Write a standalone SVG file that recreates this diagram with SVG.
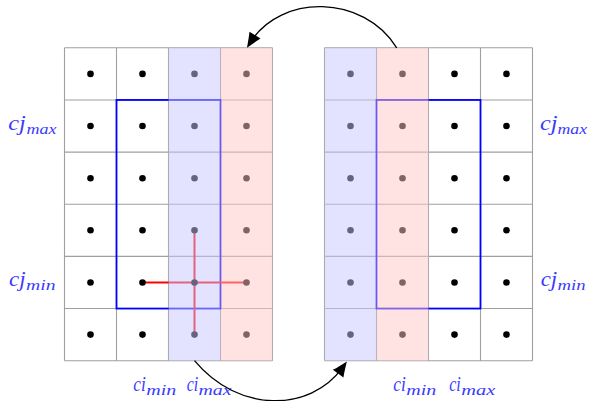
<svg xmlns="http://www.w3.org/2000/svg" width="590" height="401" viewBox="0 0 590 401">
<style>
.grid{stroke:#a0a0a0;stroke-width:1.1;fill:none}
.dot{fill:#000}
.win{fill:none;stroke:#0000ff;stroke-width:1.8}
.cross{stroke:#ff0000;stroke-width:2;fill:none}
.fb{fill:#c8c8ff;fill-opacity:0.5}
.fr{fill:#ffc8c8;fill-opacity:0.5}
.lbl{font-family:"Liberation Serif","DejaVu Serif",serif;font-style:italic;fill:#3a3aff}
.m{font-size:20px}
.s{font-size:14px}
.arc{fill:none;stroke:#000;stroke-width:1.3}
</style>
<defs>
<marker id="ah" markerUnits="userSpaceOnUse" markerWidth="30" markerHeight="30" refX="0" refY="0" viewBox="-15 -15 30 30" orient="auto" overflow="visible">
<path d="M7,0 C2,-2 -4,-4.5 -8,-6.5 L-8,6.5 C-4,4.5 2,2 7,0 Z" fill="#000"/>
</marker>
</defs>

<g id="grid-left">
<path class="grid" d="M64.5,47.8H272.5M64.5,99.95H272.5M64.5,152.1H272.5M64.5,204.25H272.5M64.5,256.4H272.5M64.5,308.55H272.5M64.5,360.7H272.5M64.5,47.8V360.7M116.5,47.8V360.7M168.5,47.8V360.7M220.5,47.8V360.7M272.5,47.8V360.7"/>
<rect class="win" x="116.5" y="99.95" width="104" height="208.6"/>
<path class="cross" d="M142.5,282.5H246.5M194.5,230.3V334.6"/>
<g class="dot">
<circle cx="90.5" cy="73.9" r="3.3"/><circle cx="142.5" cy="73.9" r="3.3"/><circle cx="194.5" cy="73.9" r="3.3"/><circle cx="246.5" cy="73.9" r="3.3"/>
<circle cx="90.5" cy="126" r="3.3"/><circle cx="142.5" cy="126" r="3.3"/><circle cx="194.5" cy="126" r="3.3"/><circle cx="246.5" cy="126" r="3.3"/>
<circle cx="90.5" cy="178.2" r="3.3"/><circle cx="142.5" cy="178.2" r="3.3"/><circle cx="194.5" cy="178.2" r="3.3"/><circle cx="246.5" cy="178.2" r="3.3"/>
<circle cx="90.5" cy="230.3" r="3.3"/><circle cx="142.5" cy="230.3" r="3.3"/><circle cx="194.5" cy="230.3" r="3.3"/><circle cx="246.5" cy="230.3" r="3.3"/>
<circle cx="90.5" cy="282.5" r="3.3"/><circle cx="142.5" cy="282.5" r="3.3"/><circle cx="194.5" cy="282.5" r="3.3"/><circle cx="246.5" cy="282.5" r="3.3"/>
<circle cx="90.5" cy="334.6" r="3.3"/><circle cx="142.5" cy="334.6" r="3.3"/><circle cx="194.5" cy="334.6" r="3.3"/><circle cx="246.5" cy="334.6" r="3.3"/>
</g>
<rect class="fb" x="168.5" y="47.8" width="52" height="312.9"/>
<rect class="fr" x="220.5" y="47.8" width="52" height="312.9"/>
</g>

<g id="grid-right">
<path class="grid" d="M324.5,47.8H532.5M324.5,99.95H532.5M324.5,152.1H532.5M324.5,204.25H532.5M324.5,256.4H532.5M324.5,308.55H532.5M324.5,360.7H532.5M324.5,47.8V360.7M376.5,47.8V360.7M428.5,47.8V360.7M480.5,47.8V360.7M532.5,47.8V360.7"/>
<rect class="win" x="376.5" y="99.95" width="104" height="208.6"/>
<g class="dot">
<circle cx="350.5" cy="73.9" r="3.3"/><circle cx="402.5" cy="73.9" r="3.3"/><circle cx="454.5" cy="73.9" r="3.3"/><circle cx="506.5" cy="73.9" r="3.3"/>
<circle cx="350.5" cy="126" r="3.3"/><circle cx="402.5" cy="126" r="3.3"/><circle cx="454.5" cy="126" r="3.3"/><circle cx="506.5" cy="126" r="3.3"/>
<circle cx="350.5" cy="178.2" r="3.3"/><circle cx="402.5" cy="178.2" r="3.3"/><circle cx="454.5" cy="178.2" r="3.3"/><circle cx="506.5" cy="178.2" r="3.3"/>
<circle cx="350.5" cy="230.3" r="3.3"/><circle cx="402.5" cy="230.3" r="3.3"/><circle cx="454.5" cy="230.3" r="3.3"/><circle cx="506.5" cy="230.3" r="3.3"/>
<circle cx="350.5" cy="282.5" r="3.3"/><circle cx="402.5" cy="282.5" r="3.3"/><circle cx="454.5" cy="282.5" r="3.3"/><circle cx="506.5" cy="282.5" r="3.3"/>
<circle cx="350.5" cy="334.6" r="3.3"/><circle cx="402.5" cy="334.6" r="3.3"/><circle cx="454.5" cy="334.6" r="3.3"/><circle cx="506.5" cy="334.6" r="3.3"/>
</g>
<rect class="fb" x="324.5" y="47.8" width="52" height="312.9"/>
<rect class="fr" x="376.5" y="47.8" width="52" height="312.9"/>
</g>

<g id="labels" class="lbl">
<text class="m" x="8.3" y="129.5" textLength="17.5" lengthAdjust="spacingAndGlyphs">cj</text>
<text class="s" x="26.5" y="134" textLength="30" lengthAdjust="spacingAndGlyphs">max</text>
<text class="m" x="9" y="286" textLength="16.5" lengthAdjust="spacingAndGlyphs">cj</text>
<text class="s" x="26" y="290.3" textLength="29.5" lengthAdjust="spacingAndGlyphs">min</text>
<text class="m" x="540" y="129.5" textLength="17.5" lengthAdjust="spacingAndGlyphs">cj</text>
<text class="s" x="557.5" y="134" textLength="29.5" lengthAdjust="spacingAndGlyphs">max</text>
<text class="m" x="540.7" y="286" textLength="16.5" lengthAdjust="spacingAndGlyphs">cj</text>
<text class="s" x="557.5" y="290.3" textLength="28" lengthAdjust="spacingAndGlyphs">min</text>
<text class="m" x="133.3" y="391" textLength="12.5" lengthAdjust="spacingAndGlyphs">ci</text>
<text class="s" x="146.3" y="395" textLength="30" lengthAdjust="spacingAndGlyphs">min</text>
<text class="m" x="186.7" y="391" textLength="11.5" lengthAdjust="spacingAndGlyphs">ci</text>
<text class="s" x="198.5" y="395" textLength="33" lengthAdjust="spacingAndGlyphs">max</text>
<text class="m" x="393.3" y="391" textLength="12.5" lengthAdjust="spacingAndGlyphs">ci</text>
<text class="s" x="406.3" y="395" textLength="30" lengthAdjust="spacingAndGlyphs">min</text>
<text class="m" x="449.3" y="391" textLength="11.5" lengthAdjust="spacingAndGlyphs">ci</text>
<text class="s" x="461.3" y="395" textLength="34" lengthAdjust="spacingAndGlyphs">max</text>
</g>

<g id="connectors">
<path class="arc" d="M396.7,47.8 C363,-6 281,-6 250.7,41.9" marker-end="url(#ah)"/>
<path class="arc" d="M194.5,360.7 C238,413 310,413 342.8,367.1" marker-end="url(#ah)"/>
</g>
</svg>
